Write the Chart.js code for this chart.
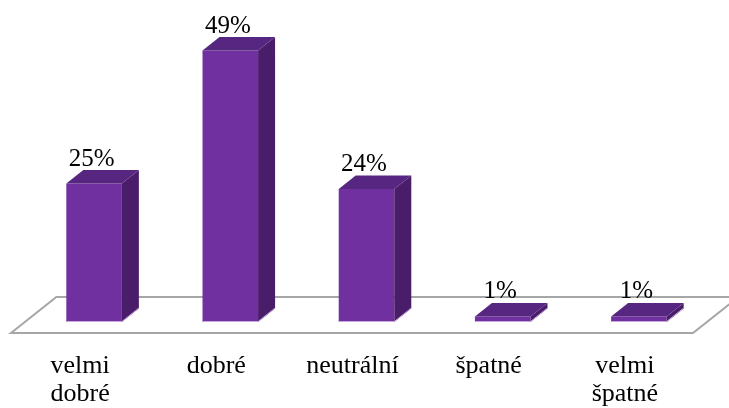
<!DOCTYPE html>
<html>
<head>
<meta charset="utf-8">
<script src="https://cdn.jsdelivr.net/npm/chart.js@4"></script>
<style>
  html, body { margin: 0; padding: 0; background: #fff; }
  #wrap { width: 729px; height: 408px; }
</style>
</head>
<body>
<div id="wrap"><canvas id="chart" width="729" height="408"></canvas></div>
<script>
// Survey answers (percent)
const categories = [["velmi", "dobré"], "dobré", "neutrální", "špatné", ["velmi", "špatné"]];
const shares = [25, 49, 24, 1, 1];

// 3D look
const DX = 17, DY = 13.5;
const FRONT = "#7030a0", SIDE = "#4a1d6b", TOP = "#572681", EDGE = "#c8a9de";
const SERIF = "Liberation Serif";

// Grey floor under the bars, drawn before the bars
const floorPlugin = {
  id: "floor",
  beforeDatasetsDraw(chart) {
    const { ctx, chartArea: a } = chart;
    const yf = a.bottom + 11, yb = a.bottom - 25;
    const shift = (yf - yb) * DX / DY;
    const xl = a.left - 15, xr = a.right - 14;
    ctx.save();
    ctx.beginPath();
    ctx.moveTo(xl, yf);
    ctx.lineTo(xl + shift, yb);
    ctx.lineTo(xr + shift, yb);
    ctx.lineTo(xr, yf);
    ctx.closePath();
    ctx.fillStyle = "#ffffff";
    ctx.fill();
    ctx.strokeStyle = "#a6a6a6";
    ctx.lineWidth = 2;
    ctx.stroke();
    ctx.restore();
  }
};

// Side and top faces, plus the percent labels
const boxPlugin = {
  id: "box",
  afterDatasetsDraw(chart) {
    const { ctx } = chart;
    const meta = chart.getDatasetMeta(0);
    ctx.save();
    meta.data.forEach((bar, i) => {
      const { x, y, base, width } = bar.getProps(["x", "y", "base", "width"], true);
      const l = x - width / 2, r = x + width / 2;
      // side
      ctx.beginPath();
      ctx.moveTo(r, y);
      ctx.lineTo(r + DX, y - DY);
      ctx.lineTo(r + DX, base - DY);
      ctx.lineTo(r, base);
      ctx.closePath();
      ctx.fillStyle = SIDE;
      ctx.fill();
      // top
      ctx.beginPath();
      ctx.moveTo(l, y);
      ctx.lineTo(l + DX, y - DY);
      ctx.lineTo(r + DX, y - DY);
      ctx.lineTo(r, y);
      ctx.closePath();
      ctx.fillStyle = TOP;
      ctx.fill();
      // light bottom edge
      ctx.strokeStyle = EDGE;
      ctx.lineWidth = 1;
      ctx.beginPath();
      ctx.moveTo(l, base - 0.5);
      ctx.lineTo(r, base - 0.5);
      ctx.lineTo(r + DX, base - DY - 0.5);
      ctx.stroke();
      // value
      ctx.fillStyle = "#000";
      ctx.font = "25px '" + SERIF + "', serif";
      ctx.textAlign = "center";
      ctx.textBaseline = "alphabetic";
      ctx.fillText(shares[i] + "%", x - 2.5, y - 18);
    });
    ctx.restore();
  }
};

new Chart(document.getElementById("chart"), {
  type: "bar",
  data: {
    labels: categories,
    datasets: [{
      data: shares,
      backgroundColor: FRONT,
      borderWidth: 0,
      categoryPercentage: 1,
      barPercentage: 0.408
    }]
  },
  options: {
    responsive: false,
    animation: false,
    events: [],
    layout: { padding: { left: 26, right: 22, top: 45, bottom: 0 } },
    plugins: { legend: { display: false }, tooltip: { enabled: false } },
    scales: {
      x: {
        grid: { display: false, drawTicks: false },
        border: { display: false },
        ticks: {
          color: "#000",
          padding: 30,
          labelOffset: -14,
          maxRotation: 0,
          autoSkip: false,
          font: { family: "'" + SERIF + "', serif", size: 26, lineHeight: 1.08 }
        },
        afterFit(scale) { scale.height = 86; }
      },
      y: {
        display: false,
        min: 0,
        max: 50
      }
    }
  },
  plugins: [floorPlugin, boxPlugin]
});
</script>
</body>
</html>
